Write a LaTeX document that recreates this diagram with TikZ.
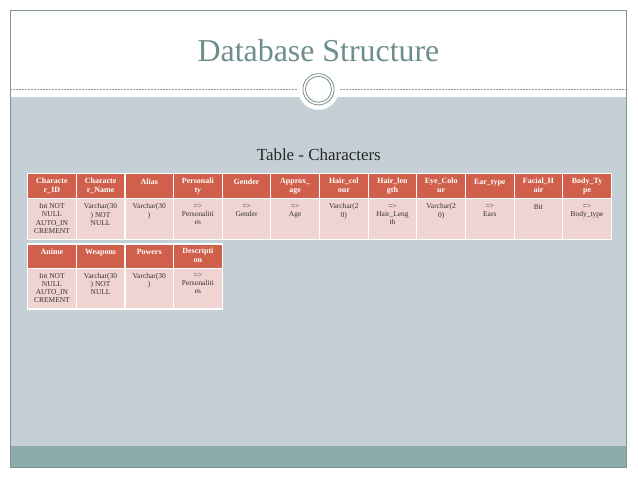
\documentclass[tikz,border=0pt]{standalone}
\usepackage{fontspec}
\setmainfont{Liberation Serif}
\definecolor{framec}{HTML}{7F9494}
\definecolor{bandc}{HTML}{C5D0D6}
\definecolor{tealc}{HTML}{8AACAC}
\definecolor{titlec}{HTML}{6E8D8D}
\definecolor{dashc}{HTML}{8C9C9C}
\definecolor{ringc}{HTML}{7A9090}
\definecolor{headc}{HTML}{D0604B}
\definecolor{bodyc}{HTML}{F0D4D1}
\definecolor{btextc}{HTML}{333333}
\tikzset{
  hcell/.style={anchor=north west, minimum width=48.65bp, minimum height=24.7bp, fill=headc, draw=white, line width=1.2bp, inner sep=0pt},
  bcell/.style={anchor=north west, minimum width=48.65bp, minimum height=41bp, fill=bodyc, draw=white, line width=1.2bp, inner sep=0pt},
  htext/.style={anchor=north, inner sep=0pt, yshift=-4.4bp, align=center, font=\fontsize{8}{9}\selectfont\bfseries, text=white, execute at begin node=\strut},
  btext/.style={anchor=north, inner sep=0pt, yshift=-5.6bp, align=center, font=\fontsize{7.5}{8.2}\selectfont, text=btextc, execute at begin node=\strut},
}
\begin{document}
\begin{tikzpicture}[x=1bp,y=-1bp]
\useasboundingbox (0,0) rectangle (638,479);
\fill[white] (0,0) rectangle (638,479);
\fill[bandc] (10.3,97.3) rectangle (626.7,445.7);
\fill[tealc] (10.3,445.7) rectangle (626.7,467);
\coordinate (dl) at (10.3,89.3);
\coordinate (dr) at (627.5,89.3);
\draw[dashc, line width=0.6bp, dash pattern=on 2bp off 1bp] (dl) -- (dr);
\coordinate (cc) at (318.5,89.3);
\fill[white] (cc) circle (20.5);
\draw[ringc, line width=0.8bp] (cc) circle (15.6) (cc) circle (13);
\draw[framec, line width=0.8bp] (10.3,10.3) rectangle (626.7,467);
\node[anchor=base, inner sep=0pt, font=\fontsize{32}{36}\selectfont, text=titlec] (title) at (318.5,62) {Database Structure};
\node[anchor=base, inner sep=0pt, font=\fontsize{17}{20}\selectfont, text=black!85] (ttl) at (318.8,160.7) {Table - Characters};
\foreach \i/\h/\b in {
  1/{Characte\\r\_ID}/{Int NOT\\NULL\\AUTO\_IN\\CREMENT},
  2/{Characte\\r\_Name}/{Varchar(30\\) NOT\\NULL},
  3/{Alias}/{Varchar(30\\)},
  4/{Personali\\ty}/{=>\\Personaliti\\es},
  5/{Gender}/{=>\\Gender},
  6/{Approx\_\\age}/{=>\\Age},
  7/{Hair\_col\\our}/{Varchar(2\\0)},
  8/{Hair\_len\\gth}/{=>\\Hair\_Leng\\th},
  9/{Eye\_Colo\\ur}/{Varchar(2\\0)},
  10/{Ear\_type}/{=>\\Ears},
  11/{Facial\_H\\air}/{Bit},
  12/{Body\_Ty\\pe}/{=>\\Body\_type}} {
  \pgfmathsetmacro\xx{27+(\i-1)*48.65}
  \node[hcell] (ha\i) at (\xx,173.3) {};
  \node[htext] (hta\i) at (ha\i.north) {\h};
  \node[bcell] (ba\i) at (\xx,198) {};
  \node[btext] (bta\i) at (ba\i.north) {\b};
}
\foreach \i/\h/\b in {
  1/{Anime}/{Int NOT\\NULL\\AUTO\_IN\\CREMENT},
  2/{Weapons}/{Varchar(30\\) NOT\\NULL},
  3/{Powers}/{Varchar(30\\)},
  4/{Descripti\\on}/{=>\\Personaliti\\es}} {
  \pgfmathsetmacro\xx{27+(\i-1)*48.65}
  \node[hcell, minimum height=24.2bp] (hb\i) at (\xx,243.3) {};
  \node[htext] (htb\i) at (hb\i.north) {\h};
  \node[bcell, minimum height=40.8bp] (bb\i) at (\xx,267.5) {};
  \node[btext] (btb\i) at (bb\i.north) {\b};
}
\end{tikzpicture}
\end{document}
